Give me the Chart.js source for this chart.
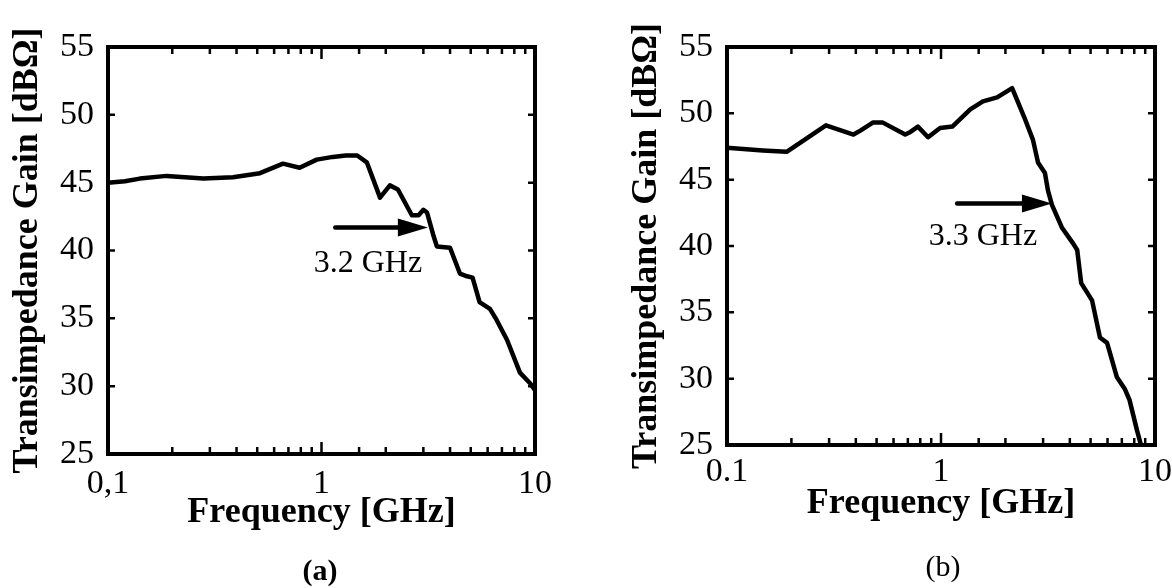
<!DOCTYPE html>
<html><head><meta charset="utf-8">
<script src="https://cdn.jsdelivr.net/npm/chart.js@4.4.1/dist/chart.umd.min.js"></script>
<style>
html,body{margin:0;padding:0;background:#fff;width:1172px;height:588px;overflow:hidden;}
.box{position:absolute;top:0;height:588px;}
#boxA{left:0;width:580px;}
#boxB{left:590px;width:582px;}
.cap{position:absolute;font-family:"Liberation Serif",serif;font-size:30px;color:#000;transform:translate(-50%,-50%);line-height:1;}
</style></head><body>
<div class="box" id="boxA"><canvas id="cA"></canvas></div>
<div class="box" id="boxB"><canvas id="cB"></canvas></div>
<div class="cap" style="left:320px;top:570px;font-weight:bold">(a)</div>
<div class="cap" style="left:943px;top:566px">(b)</div>
<script>
// ---- data ----
const freqA = [0.1,0.12,0.141,0.188,0.28,0.385,0.515,0.66,0.79,0.95,1.13,1.3,1.47,1.63,1.88,2.09,2.28,2.65,2.85,3.0,3.12,3.33,3.47,4.0,4.45,4.8,5.1,5.5,6.15,6.6,7.4,8.5,9.5,10];
const gainA = [45.0,45.1,45.3,45.5,45.3,45.4,45.7,46.4,46.1,46.7,46.9,47.0,47.0,46.5,43.9,44.8,44.5,42.6,42.6,43.0,42.8,41.2,40.3,40.2,38.3,38.1,38.0,36.2,35.7,34.9,33.4,31.0,30.2,29.7];
const freqB = [0.1,0.147,0.19,0.29,0.39,0.42,0.48,0.535,0.68,0.72,0.78,0.87,0.99,1.13,1.37,1.57,1.83,2.15,2.45,2.69,2.84,3.06,3.16,3.3,3.67,4.14,4.33,4.52,5.08,5.53,5.97,6.64,7.24,7.6,8.24,8.6];
const gainB = [47.4,47.2,47.1,49.1,48.4,48.7,49.3,49.3,48.4,48.6,49.0,48.2,48.9,49.0,50.3,50.9,51.2,51.9,49.7,48.0,46.3,45.5,44.2,43.1,41.4,40.2,39.7,37.2,35.9,33.1,32.7,30.1,29.2,28.4,26.1,25.0];
const xTickValues = [0.1, 1, 10];
const xTickLabelsA = ['0,1', '1', '10'];
const xTickLabelsB = ['0.1', '1', '10'];
const yRange = [25, 55];
const yStep = 5;
const arrowFreqA = [1.16, 3.15];   // arrow start / tip (GHz)
const arrowGainA = [41.7];
const noteA = ['3.2 GHz', 1.65, 39.0]; // text, freq, gain
const arrowFreqB = [1.19, 3.3];
const arrowGainB = [43.2];
const noteB = ['3.3 GHz', 1.57, 40.7];

const SERIF = '"Liberation Serif", "Times New Roman", serif';

function isDecade(v){ const l = Math.log10(v); return Math.abs(l - Math.round(l)) < 1e-6; }

const framePlugin = {
  id: 'frame',
  afterDatasetsDraw(chart, args, opts) {
    const {ctx, chartArea: a, scales: {x, y}} = chart;
    ctx.save();
    ctx.strokeStyle = '#000'; ctx.fillStyle = '#000';
    ctx.lineWidth = 2.5;
    ctx.beginPath();
    x.ticks.forEach(t => {
      const px = x.getPixelForValue(t.value);
      const L = isDecade(t.value) ? 12 : 7;
      ctx.moveTo(px, a.bottom); ctx.lineTo(px, a.bottom - L);
      ctx.moveTo(px, a.top); ctx.lineTo(px, a.top + L);
    });
    y.ticks.forEach(t => {
      const py = y.getPixelForValue(t.value);
      ctx.moveTo(a.left, py); ctx.lineTo(a.left + 7, py);
      ctx.moveTo(a.right, py); ctx.lineTo(a.right - 7, py);
    });
    ctx.stroke();
    ctx.lineWidth = 4;
    ctx.strokeRect(a.left, a.top, a.right - a.left, a.bottom - a.top);
    // arrow
    const x1 = x.getPixelForValue(opts.arrowFreq[0]);
    const x2 = x.getPixelForValue(opts.arrowFreq[1]);
    const ay = y.getPixelForValue(opts.arrowGain[0]);
    const headL = 30, headH = 9;
    ctx.lineWidth = 4.5; ctx.lineCap = 'round';
    ctx.beginPath(); ctx.moveTo(x1, ay); ctx.lineTo(x2 - headL + 2, ay); ctx.stroke();
    ctx.beginPath(); ctx.moveTo(x2, ay); ctx.lineTo(x2 - headL, ay - headH); ctx.lineTo(x2 - headL, ay + headH); ctx.closePath(); ctx.fill();
    // note
    ctx.font = '32px ' + SERIF;
    ctx.textAlign = 'center'; ctx.textBaseline = 'middle';
    ctx.fillText(opts.note[0], x.getPixelForValue(opts.note[1]), y.getPixelForValue(opts.note[2]));
    ctx.restore();
  }
};

function makeChart(id, freq, gain, xLabels, L) {
  const pts = freq.map((f, i) => ({x: f, y: gain[i]}));
  return new Chart(document.getElementById(id), {
    type: 'line',
    data: { datasets: [{ data: pts, borderColor: '#000', borderWidth: 4.5, pointRadius: 0, tension: 0, fill: false, borderJoinStyle: 'round', borderCapStyle: 'round' }] },
    options: {
      responsive: true, maintainAspectRatio: false, animation: false,
      layout: { padding: { top: L.top, right: L.right, left: 0, bottom: 0 } },
      plugins: { legend: {display: false}, tooltip: {enabled: false},
        frame: { arrowFreq: L.arrowFreq, arrowGain: L.arrowGain, note: L.note } },
      scales: {
        x: {
          type: 'logarithmic', position: 'bottom', min: 0.1, max: 10,
          grid: {display: false, drawTicks: false}, border: {display: false},
          ticks: { autoSkip: false, maxRotation: 0, minRotation: 0, padding: L.xTickPad, color: '#000',
            font: {family: SERIF, size: 34},
            callback: (v) => { const i = xTickValues.findIndex(t => Math.abs(t - v) < 1e-9 * Math.max(1, v)); return i >= 0 ? xLabels[i] : ''; } },
          title: { display: true, text: 'Frequency [GHz]', color: '#000',
            font: {family: SERIF, size: 36, weight: 'bold'}, padding: {top: 0, bottom: L.xTitlePad} },
          afterFit(s) { s.height = L.xH; s.paddingLeft = 0; s.paddingRight = 0; }
        },
        y: {
          min: yRange[0], max: yRange[1],
          grid: {display: false, drawTicks: false}, border: {display: false},
          ticks: { stepSize: yStep, padding: 14, color: '#000', font: {family: SERIF, size: 34} },
          title: { display: true, text: 'Transimpedance Gain [dBΩ]', color: '#000',
            font: {family: SERIF, size: 36, weight: 'bold'}, padding: {top: L.yTitlePad, bottom: 0} },
          afterFit(s) { s.width = L.yW; s.paddingTop = 0; s.paddingBottom = 0; }
        }
      }
    },
    plugins: [framePlugin]
  });
}

makeChart('cA', freqA, gainA, xTickLabelsA, {top: 47, right: 45, xH: 134, yW: 108, xTickPad: 10, xTitlePad: 54, yTitlePad: 6,
  arrowFreq: arrowFreqA, arrowGain: arrowGainA, note: noteA});
makeChart('cB', freqB, gainB, xTickLabelsB, {top: 47, right: 17, xH: 143, yW: 137, xTickPad: 7, xTitlePad: 63, yTitlePad: 35,
  arrowFreq: arrowFreqB, arrowGain: arrowGainB, note: noteB});
</script>
</body></html>
